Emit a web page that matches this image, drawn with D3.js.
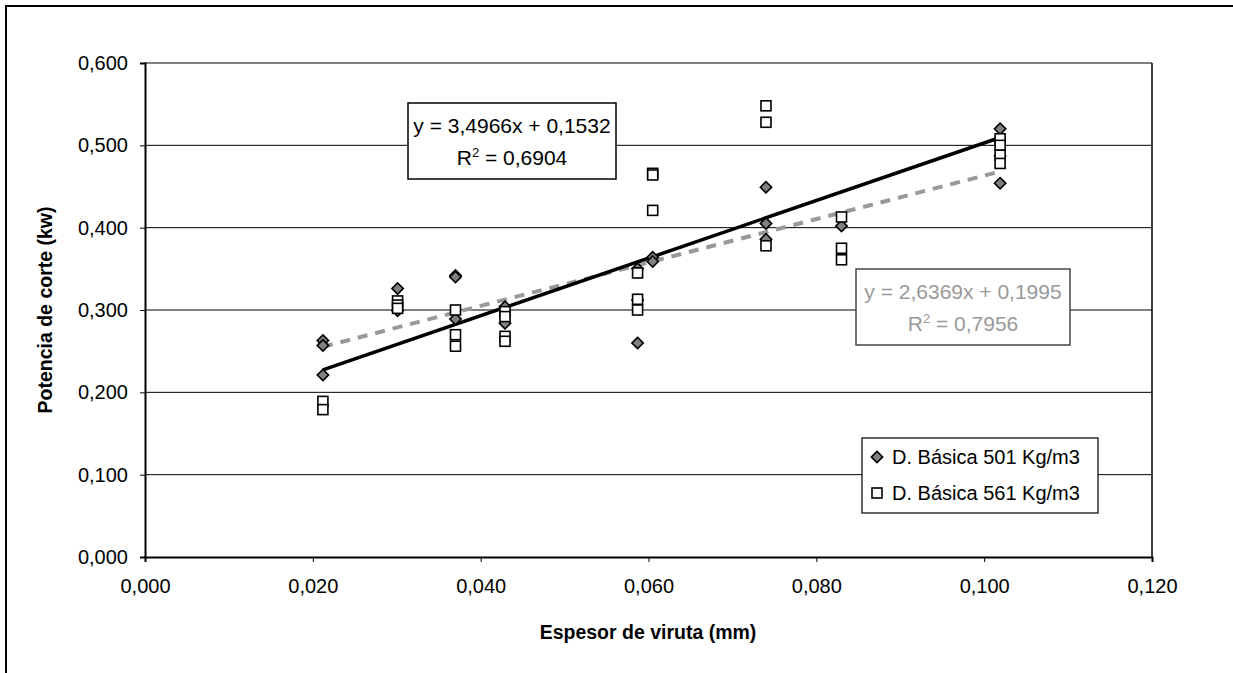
<!DOCTYPE html>
<html>
<head>
<meta charset="utf-8">
<script src="https://cdn.jsdelivr.net/npm/d3@7"></script>
<style>
  body { margin: 0; background: #fff; }
  text { font-family: "Liberation Sans", Arial, sans-serif; }
</style>
</head>
<body>
<svg id="chart" width="1233" height="673"></svg>
<script>
// data
const x501 = [0.0212, 0.0212, 0.0212, 0.0301, 0.0301, 0.0370, 0.0370, 0.0370, 0.0429, 0.0429,
              0.0587, 0.0587, 0.0587, 0.0605, 0.0605, 0.0740, 0.0740, 0.0740, 0.0830, 0.1019, 0.1019, 0.1019]
const y501 = [0.263, 0.257, 0.221, 0.326, 0.299, 0.342, 0.340, 0.289, 0.304, 0.284,
              0.350, 0.312, 0.260, 0.364, 0.359, 0.449, 0.405, 0.386, 0.402, 0.520, 0.487, 0.454]
const x561 = [0.0212, 0.0212, 0.0301, 0.0301, 0.0301, 0.0370, 0.0370, 0.0370, 0.0429, 0.0429, 0.0429, 0.0429,
              0.0587, 0.0587, 0.0587, 0.0605, 0.0605, 0.0605, 0.0740, 0.0740, 0.0740, 0.0830, 0.0830, 0.0830,
              0.1019, 0.1019, 0.1019, 0.1019]
const y561 = [0.189, 0.179, 0.311, 0.306, 0.302, 0.300, 0.270, 0.256, 0.298, 0.292, 0.268, 0.262,
              0.345, 0.313, 0.300, 0.466, 0.464, 0.421, 0.548, 0.528, 0.378, 0.413, 0.375, 0.361,
              0.508, 0.500, 0.488, 0.478]
const seriesNames = ["D. Básica 501 Kg/m3", "D. Básica 561 Kg/m3"]
// trend lines: [slope, intercept]
const trendBlack = [3.4966, 0.1532]
const trendGray = [2.6369, 0.1995]
const trendText = [["y = 3,4966x + 0,1532", "R", " = 0,6904"], ["y = 2,6369x + 0,1995", "R", " = 0,7956"]]
const xTicks = [0, 0.02, 0.04, 0.06, 0.08, 0.10, 0.12]
const yTicks = [0, 0.1, 0.2, 0.3, 0.4, 0.5, 0.6]

const svg = d3.select("#chart")
const fmt = (d, n) => d.toFixed(n).replace(".", ",")

// outer chart border
svg.append("rect").attr("x", 6).attr("y", 6).attr("width", 1260).attr("height", 720)
   .attr("fill", "none").attr("stroke", "#000").attr("stroke-width", 2)

const xScale = d3.scaleLinear().domain([0, 0.12]).range([145, 1152])
const yScale = d3.scaleLinear().domain([0, 0.6]).range([557, 63])

// gridlines
svg.append("g").selectAll("line").data(yTicks.slice(1)).join("line")
   .attr("x1", xScale(0)).attr("x2", xScale(0.12))
   .attr("y1", d => yScale(d)).attr("y2", d => yScale(d))
   .attr("stroke", "#000").attr("stroke-width", 1)
// plot area right edge
svg.append("line").attr("x1", xScale(0.12)).attr("x2", xScale(0.12))
   .attr("y1", yScale(0.6)).attr("y2", yScale(0))
   .attr("stroke", "#000").attr("stroke-width", 1.5)

// axes
const xAxis = svg.append("g").attr("transform", `translate(0,${yScale(0)})`)
   .call(d3.axisBottom(xScale).tickValues(xTicks).tickFormat(d => fmt(d, 3)).tickSize(5).tickPadding(17))
const yAxis = svg.append("g").attr("transform", `translate(${xScale(0)},0)`)
   .call(d3.axisLeft(yScale).tickValues(yTicks).tickFormat(d => fmt(d, 3)).tickSize(5).tickPadding(12))
for (const ax of [xAxis, yAxis]) {
    ax.select(".domain").attr("stroke", "#000").attr("stroke-width", 2)
    ax.selectAll(".tick line").attr("stroke", "#000")
    ax.selectAll(".tick text").attr("font-size", 20).attr("fill", "#000")
        .style("font-family", '"Liberation Sans", Arial, sans-serif')
}

// axis titles
svg.append("text").attr("x", 648).attr("y", 639).attr("text-anchor", "middle")
   .attr("font-size", 19.5).attr("font-weight", "bold").text("Espesor de viruta (mm)")
svg.append("text").attr("transform", "translate(52,310) rotate(-90)").attr("text-anchor", "middle")
   .attr("font-size", 19.5).attr("font-weight", "bold").text("Potencia de corte (kw)")

// trend lines
const xMin = d3.min(x501.concat(x561)), xMax = d3.max(x501.concat(x561))
const trendLine = (t) => d3.line().x(d => xScale(d)).y(d => yScale(t[0] * d + t[1]))([xMin, xMax])
svg.append("path").attr("d", trendLine(trendGray)).attr("fill", "none")
   .attr("stroke", "#999").attr("stroke-width", 4).attr("stroke-dasharray", "10,8")
svg.append("path").attr("d", trendLine(trendBlack)).attr("fill", "none")
   .attr("stroke", "#000").attr("stroke-width", 3.5)

// markers
function drawDiamond(g, x, y) {
    g.append("path").attr("d", d3.symbol().type(d3.symbolSquare).size(64)())
     .attr("transform", `translate(${x},${y}) rotate(45)`)
     .attr("fill", "#808080").attr("stroke", "#000").attr("stroke-width", 1.6)
}
function drawSquare(g, x, y) {
    g.append("rect").attr("x", x - 5).attr("y", y - 5).attr("width", 10).attr("height", 10)
     .attr("fill", "#fff").attr("stroke", "#000").attr("stroke-width", 1.6)
}
const marks = svg.append("g")
x501.forEach((d, i) => drawDiamond(marks, xScale(d), yScale(y501[i])))
x561.forEach((d, i) => drawSquare(marks, xScale(d), yScale(y561[i])))

// equation boxes
function eqBox(x, y, w, h, lines, color, stroke) {
    const g = svg.append("g")
    g.append("rect").attr("x", x).attr("y", y).attr("width", w).attr("height", h)
     .attr("fill", "#fff").attr("stroke", stroke).attr("stroke-width", 1.5)
    g.append("text").attr("x", x + w / 2).attr("y", y + 30).attr("text-anchor", "middle")
     .attr("font-size", 21).attr("fill", color).text(lines[0])
    const t = g.append("text").attr("x", x + w / 2).attr("y", y + 62).attr("text-anchor", "middle")
     .attr("font-size", 21).attr("fill", color)
    t.append("tspan").text(lines[1])
    t.append("tspan").attr("font-size", 13).attr("dy", -8).text("2")
    t.append("tspan").attr("dy", 8).text(lines[2])
}
eqBox(408, 103, 208, 76, trendText[0], "#000", "#000")
eqBox(856, 269, 214, 76, trendText[1], "#999", "#444")

// legend
const lg = svg.append("g")
lg.append("rect").attr("x", 862).attr("y", 438).attr("width", 236).attr("height", 75)
  .attr("fill", "#fff").attr("stroke", "#000").attr("stroke-width", 1.2)
drawDiamond(lg, 877, 457)
drawSquare(lg, 877, 493)
seriesNames.forEach((s, i) => {
    lg.append("text").attr("x", 892).attr("y", 464 + i * 36).attr("font-size", 20).text(s)
})
</script>
</body>
</html>
